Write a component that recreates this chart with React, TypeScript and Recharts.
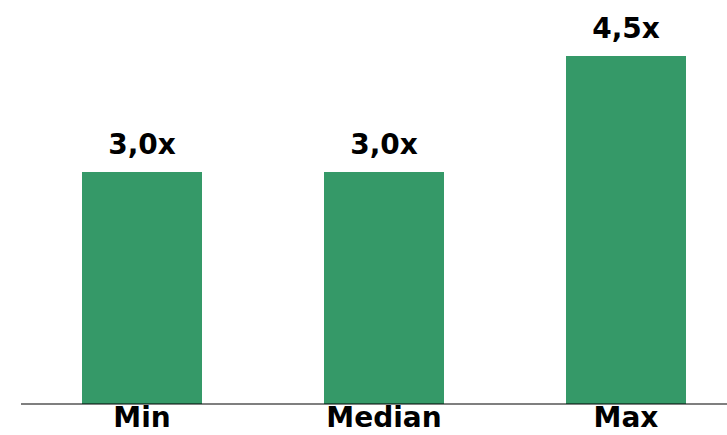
import { BarChart, Bar, XAxis, YAxis, LabelList } from "recharts";

const categories = ["Min", "Median", "Max"];
const multiples = [3.0, 3.0, 4.5];

const data = categories.map((name, i) => ({ name, value: multiples[i] }));

const fmt = (v: number) => v.toFixed(1).replace(".", ",") + "x";

const App = () => {
  return (
    <div
      style={{
        position: "absolute",
        top: 0,
        left: 0,
        width: 727,
        height: 435,
        overflow: "hidden",
        background: "#fff",
      }}
    >
      <BarChart
        width={747}
        height={435}
        data={data}
        margin={{ top: 56, right: 0, bottom: 0, left: 21 }}
      >
        <XAxis
          dataKey="name"
          height={31}
          tickLine={false}
          tickSize={0}
          tickMargin={3}
          axisLine={{ stroke: "#000", strokeWidth: 1.2 }}
          tick={{ fill: "#000", fontSize: 28, fontWeight: "bold", fontFamily: "DejaVu Sans" }}
        />
        <YAxis hide domain={[0, 4.5]} />
        <Bar dataKey="value" fill="#359968" barSize={120} isAnimationActive={false}>
          <LabelList
            dataKey="value"
            position="top"
            offset={18}
            formatter={(v: any) => fmt(Number(v))}
            style={{ fill: "#000", fontSize: 28, fontWeight: "bold", fontFamily: "DejaVu Sans" }}
          />
        </Bar>
      </BarChart>
    </div>
  );
};

export default App;
